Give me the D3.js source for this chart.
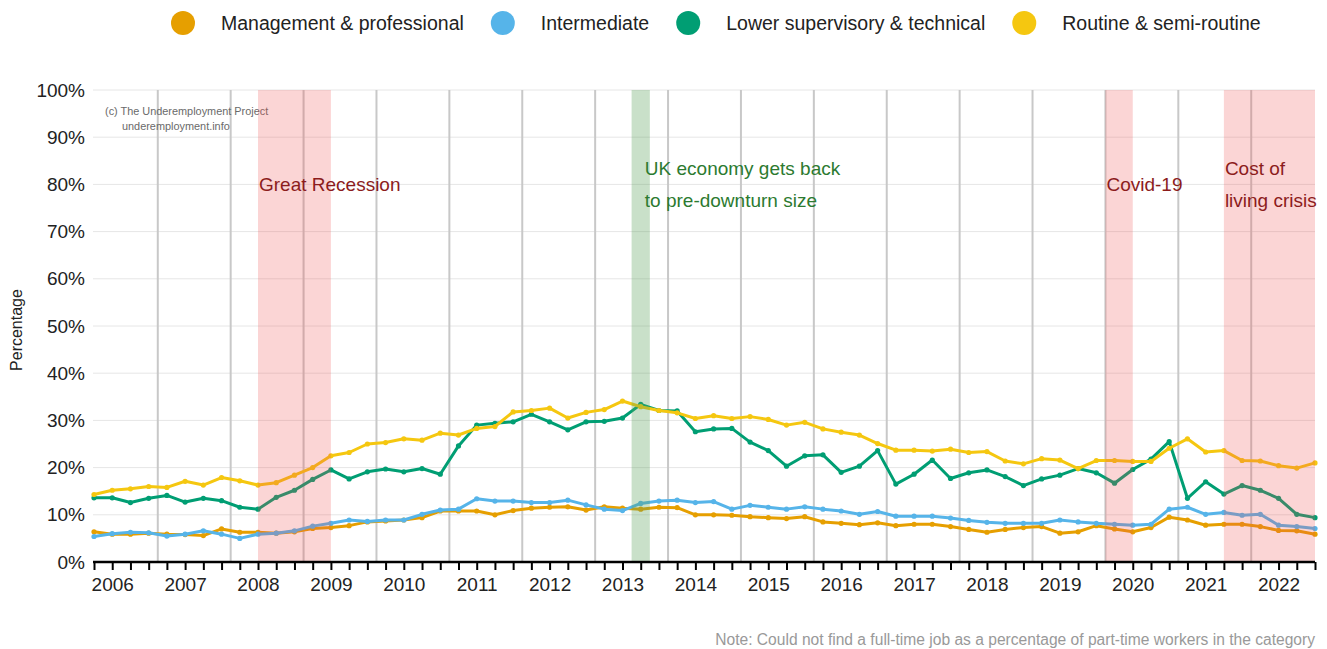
<!DOCTYPE html>
<html>
<head>
<meta charset="utf-8">
<script src="https://cdn.jsdelivr.net/npm/d3@7"></script>
<style>
    body { margin: 0; background: #fff; }
    svg text { font-family: "Liberation Sans", Arial, sans-serif; }
</style>
</head>
<body>
<div id="chart"></div>
<script>
// years shown on the axis, one label per year (quarterly data 2006-2022)
const years = d3.range(2006, 2023);

const seriesNames = ["Management & professional", "Intermediate", "Lower supervisory & technical", "Routine & semi-routine"];
const seriesColors = ["#E69F00", "#56B4E9", "#009E73", "#F5C710"];

const management = [6.4, 5.9, 5.9, 6.1, 5.9, 5.8, 5.6, 7.0, 6.3, 6.3, 6.1, 6.4, 7.1, 7.3, 7.7, 8.5,
    8.7, 8.9, 9.4, 10.8, 10.8, 10.8, 10.0, 10.9, 11.4, 11.6, 11.7, 11.0, 11.7, 11.4, 11.2, 11.6,
    11.5, 10.0, 10.0, 9.9, 9.6, 9.4, 9.2, 9.6, 8.5, 8.2, 7.9, 8.3, 7.7, 8.0, 8.0, 7.5,
    6.9, 6.3, 6.9, 7.3, 7.5, 6.1, 6.4, 7.7, 7.0, 6.4, 7.3, 9.5, 8.9, 7.8, 8.0, 8.0,
    7.5, 6.7, 6.6, 5.9];
const intermediate = [5.4, 6.0, 6.3, 6.2, 5.5, 5.9, 6.6, 5.9, 5.0, 5.9, 6.1, 6.6, 7.6, 8.2, 8.9, 8.6,
    8.9, 8.9, 10.1, 11.0, 11.2, 13.4, 12.9, 12.9, 12.6, 12.6, 13.1, 12.1, 11.2, 10.9, 12.4, 12.9,
    13.1, 12.6, 12.8, 11.2, 12.0, 11.6, 11.2, 11.7, 11.2, 10.8, 10.1, 10.7, 9.7, 9.7, 9.7, 9.3,
    8.8, 8.4, 8.2, 8.2, 8.2, 8.9, 8.5, 8.2, 8.0, 7.8, 8.0, 11.2, 11.6, 10.1, 10.5, 9.9,
    10.1, 7.8, 7.5, 7.1];
const lowerSupervisory = [13.6, 13.6, 12.6, 13.5, 14.1, 12.7, 13.5, 13.0, 11.6, 11.2, 13.7, 15.2, 17.5, 19.5, 17.6, 19.1,
    19.7, 19.1, 19.8, 18.6, 24.6, 29.0, 29.4, 29.7, 31.3, 29.7, 28.0, 29.7, 29.8, 30.5, 33.4, 32.1,
    32.0, 27.6, 28.2, 28.3, 25.4, 23.6, 20.3, 22.5, 22.7, 19.0, 20.3, 23.6, 16.5, 18.6, 21.6, 17.7,
    18.9, 19.5, 18.1, 16.2, 17.6, 18.4, 19.8, 18.9, 16.7, 19.6, 21.8, 25.5, 13.5, 17.0, 14.4, 16.2,
    15.2, 13.5, 10.1, 9.4];
const routine = [14.3, 15.2, 15.5, 16.0, 15.8, 17.1, 16.3, 17.9, 17.2, 16.3, 16.8, 18.4, 20.0, 22.5, 23.2, 25.0,
    25.3, 26.1, 25.8, 27.3, 26.9, 28.3, 28.7, 31.8, 32.1, 32.6, 30.5, 31.7, 32.3, 34.1, 32.9, 32.1,
    31.6, 30.4, 31.0, 30.4, 30.8, 30.2, 29.0, 29.6, 28.2, 27.5, 26.9, 25.1, 23.7, 23.7, 23.5, 23.9,
    23.2, 23.4, 21.4, 20.8, 21.9, 21.6, 19.8, 21.5, 21.5, 21.3, 21.3, 24.1, 26.1, 23.3, 23.6, 21.5,
    21.4, 20.4, 19.9, 21.0];

const yTicks = d3.range(0, 101, 10);

// shaded periods, in quarter positions
const periodStarts = [9, 29.5, 55.5, 62];
const periodEnds = [13, 30.5, 57, 67];
const periodKinds = ["red", "green", "red", "red"];
const periodLabels = [["Great Recession"], ["UK economy gets back", "to pre-downturn size"], ["Covid-19"], ["Cost of", "living crisis"]];

const width = 1327, height = 649;
const margin = {top: 90, right: 12, bottom: 87, left: 94};

const svg = d3.select("#chart").append("svg")
    .attr("width", width)
    .attr("height", height);

const x = d3.scaleLinear()
    .domain([0, routine.length - 1])
    .range([margin.left, width - margin.right]);

const y = d3.scaleLinear()
    .domain([0, 100])
    .range([height - margin.bottom, margin.top]);

// horizontal grid
svg.append("g")
    .selectAll("line")
    .data(yTicks.slice(1))
    .join("line")
    .attr("x1", x(0) - 1)
    .attr("x2", x.range()[1])
    .attr("y1", d => y(d))
    .attr("y2", d => y(d))
    .attr("stroke", "#e6e6e6")
    .attr("stroke-width", 1);

// y axis labels
const yAxis = svg.append("g")
    .attr("transform", `translate(${margin.left},0)`)
    .call(d3.axisLeft(y).tickValues(yTicks).tickFormat(d => d + "%").tickSize(0).tickPadding(9));
yAxis.select(".domain").remove();
yAxis.selectAll("text").attr("font-size", 19).attr("fill", "#222");

// vertical year separators
svg.append("g")
    .selectAll("line")
    .data(years.slice(0, -1))
    .join("line")
    .attr("x1", (d, i) => x(i * 4 + 3.5))
    .attr("x2", (d, i) => x(i * 4 + 3.5))
    .attr("y1", y(100))
    .attr("y2", y(0))
    .attr("stroke", "#c8c8c8")
    .attr("stroke-width", 2);

// copyright note
svg.append("text")
    .attr("x", 105).attr("y", 115)
    .attr("font-size", 10.9).attr("fill", "#6a6a6a")
    .text("(c) The Underemployment Project");
svg.append("text")
    .attr("x", 122).attr("y", 130)
    .attr("font-size", 10.9).attr("fill", "#6a6a6a")
    .text("underemployment.info");

// the four lines
const allSeries = [management, intermediate, lowerSupervisory, routine];
const line = d3.line().x((d, i) => x(i)).y(d => y(d));

allSeries.forEach((values, s) => {
    const g = svg.append("g");
    g.append("path")
        .datum(values)
        .attr("d", line)
        .attr("fill", "none")
        .attr("stroke", seriesColors[s])
        .attr("stroke-width", 3)
        .attr("stroke-linejoin", "round");
    g.selectAll("circle")
        .data(values)
        .join("circle")
        .attr("cx", (d, i) => x(i))
        .attr("cy", d => y(d))
        .attr("r", 2.6)
        .attr("fill", seriesColors[s]);
});

// shaded periods go on top of the lines
svg.append("g")
    .selectAll("rect")
    .data(periodStarts)
    .join("rect")
    .attr("x", d => x(d))
    .attr("width", (d, i) => x(periodEnds[i]) - x(d))
    .attr("y", y(100))
    .attr("height", y(0) - y(100))
    .attr("fill", (d, i) => periodKinds[i] === "red" ? "rgba(240, 80, 80, 0.24)" : "rgba(90, 160, 90, 0.33)");

// period labels
periodLabels.forEach((lines, i) => {
    const isGreen = periodKinds[i] === "green";
    const left = isGreen ? x(periodEnds[i]) - 5 : x(periodStarts[i]) + 1;
    lines.forEach((t, j) => {
        svg.append("text")
            .attr("x", left)
            .attr("y", (lines.length === 1 ? 191 : 175) + j * 32)
            .attr("font-size", 19)
            .attr("fill", isGreen ? "#2c7a30" : "#8c1c1c")
            .text(t);
    });
});

// x axis
const xAxis = svg.append("g")
    .attr("transform", `translate(0,${y(0)})`)
    .call(d3.axisBottom(x)
        .tickValues(d3.range(routine.length))
        .tickSize(8)
        .tickPadding(8)
        .tickFormat(d => d % 4 === 1 ? years[(d - 1) / 4] : ""));
xAxis.select(".domain")
    .attr("d", `M${x(0) - 1},0H${x.range()[1]}`)
    .attr("stroke", "#000")
    .attr("stroke-width", 2.5);
xAxis.selectAll(".tick line").attr("stroke", "#000").attr("stroke-width", 2);
xAxis.selectAll("text").attr("font-size", 19).attr("fill", "#222");

// y axis title
svg.append("text")
    .attr("transform", `translate(22,${(y(0) + y(100)) / 2 + 4}) rotate(-90)`)
    .attr("text-anchor", "middle")
    .attr("font-size", 16)
    .attr("fill", "#222")
    .text("Percentage");

// legend
const legend = svg.append("g");
let lx = 183;
seriesNames.forEach((name, i) => {
    legend.append("circle")
        .attr("cx", lx).attr("cy", 23).attr("r", 12)
        .attr("fill", seriesColors[i]);
    const t = legend.append("text")
        .attr("x", lx + 38).attr("y", 30)
        .attr("font-size", 19.5)
        .attr("fill", "#222")
        .text(name);
    lx += 38 + t.node().getComputedTextLength() + 39;
});

// footnote
svg.append("text")
    .attr("x", x.range()[1]).attr("y", 645)
    .attr("text-anchor", "end")
    .attr("font-size", 15.6)
    .attr("fill", "#999")
    .text("Note: Could not find a full-time job as a percentage of part-time workers in the category");
</script>
</body>
</html>
